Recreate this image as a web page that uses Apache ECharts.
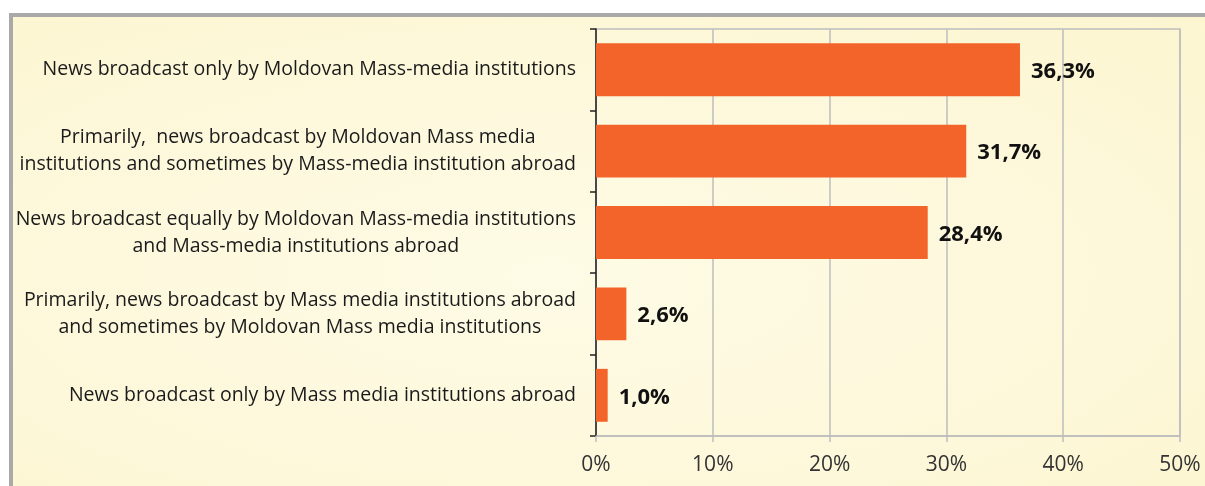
<!DOCTYPE html>
<html>
<head>
<meta charset="utf-8">
<script src="https://cdn.jsdelivr.net/npm/echarts@6/dist/echarts.min.js"></script>
<style>
  html, body { margin: 0; padding: 0; background: #fff; }
  #frame {
    position: absolute; left: 9px; top: 13px; width: 1196px; height: 473px;
    border-top: 4px solid #a9a9a9; border-left: 4px solid #a9a9a9;
    box-sizing: border-box;
    background: radial-gradient(ellipse at 45% 55%, #fefbe6 0%, #fdf8da 60%, #fcf5d0 100%);
  }
  #chart { position: absolute; left: 0; top: 0; width: 1205px; height: 486px; }
</style>
</head>
<body>
<div id="frame"></div>
<div id="chart"></div>
<script>
// categories, top to bottom
let categories = [
    'News broadcast only by Moldovan Mass-media institutions',
    'Primarily,  news broadcast by Moldovan Mass media\ninstitutions and sometimes by Mass-media institution abroad',
    'News broadcast equally by Moldovan Mass-media institutions\nand Mass-media institutions abroad',
    'Primarily, news broadcast by Mass media institutions abroad\nand sometimes by Moldovan Mass media institutions',
    'News broadcast only by Mass media institutions abroad'
];
let values = [36.3, 31.7, 28.4, 2.6, 1.0];
let tickMin = 0;
let tickMax = 50;
let tickStep = 10;

let chart = echarts.init(document.getElementById('chart'));

chart.setOption({
    backgroundColor: 'transparent',
    animation: false,
    grid: {
        left: 596,
        right: 25,
        top: 29,
        bottom: 50,
        show: true,
        borderColor: '#bdbdbd',
        borderWidth: 1.5,
        backgroundColor: 'transparent'
    },
    xAxis: {
        type: 'value',
        min: tickMin,
        max: tickMax,
        interval: tickStep,
        axisLine: {
            show: true,
            lineStyle: { color: '#bdbdbd', width: 1.5 }
        },
        axisTick: {
            show: true,
            length: 6,
            lineStyle: { color: '#bdbdbd', width: 1.5 }
        },
        axisLabel: {
            margin: 19,
            color: '#333',
            fontFamily: 'Open Sans',
            fontSize: 21,
            formatter: v => v + '%'
        },
        splitLine: {
            lineStyle: { color: '#bdbdbd', width: 1.5 }
        }
    },
    yAxis: {
        type: 'category',
        inverse: true,
        data: categories,
        axisLine: {
            show: true,
            lineStyle: { color: '#222', width: 1.5 }
        },
        axisTick: {
            show: true,
            length: 6,
            lineStyle: { color: '#222', width: 1.5 }
        },
        axisLabel: {
            margin: 20,
            color: '#1a1a1a',
            formatter: v => v.split('\n').map(l => '{c|' + l + '}').join('\n'),
            rich: {
                c: {
                    align: 'center',
                    fontFamily: 'Open Sans',
                    fontSize: 19.5,
                    lineHeight: 27,
                    color: '#1a1a1a'
                }
            }
        }
    },
    series: [
        {
            type: 'bar',
            data: values,
            barCategoryGap: '35%',
            itemStyle: { color: '#f26429' },
            label: {
                show: true,
                position: 'right',
                distance: 11,
                offset: [0, 2],
                color: '#111',
                fontFamily: 'Open Sans',
                fontWeight: 'bold',
                fontSize: 22,
                formatter: p => p.value.toFixed(1).replace('.', ',') + '%'
            }
        }
    ]
});
</script>
</body>
</html>
